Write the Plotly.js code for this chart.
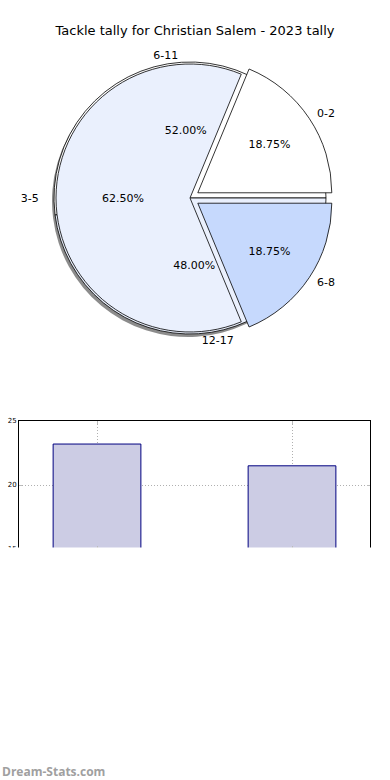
<!DOCTYPE html>
<html>
<head>
<meta charset="utf-8">
<script src="https://cdn.plot.ly/plotly-3.0.1.min.js"></script>
<style>
  html, body { margin: 0; padding: 0; background: #ffffff; }
  #chart { width: 390px; height: 780px; }
</style>
</head>
<body>
<div id="chart"></div>
<script>
// ---- data ----
const groupLabels = ['0-2', '3-5', '6-8'];
const groupValues = [3, 10, 3];
const rangeLabels = ['6-11', '12-17'];
const rangeValues = [13, 12];
const barCategories = ['A', 'B'];
const barValues = [23.2, 21.5];
const barTicks = [15, 20, 25];

// ---- styling ----
const W = 390, H = 780;
const sliceColors = ['#ffffff', '#eaf0fd', '#c6d9fd'];
const clear = groupLabels.map(() => 'rgba(0,0,0,0)');
const cx = 190, cy = 198;
function dom(r, pull) {
  const half = r * (1 + pull);
  return {
    x: [(cx - half) / W, (cx + half) / W],
    y: [1 - (cy + half) / H, 1 - (cy - half) / H]
  };
}
function domShift(r, pull, dx, dy) {
  const d = dom(r, pull);
  return { x: [d.x[0] + dx / W, d.x[1] + dx / W], y: [d.y[0] - dy / H, d.y[1] - dy / H] };
}
// Plotly (counterclockwise) places the first slice clockwise of the rotation point;
// shift so the first slice starts at 3 o'clock and runs counterclockwise.
function startAtThree(vals) {
  const tot = vals.reduce((a, b) => a + b, 0);
  return 90 - 360 * vals[0] / tot;
}
const rot1 = startAtThree(groupValues);
const rot2 = startAtThree(rangeValues);
const R1 = 134, R2 = 136, PULL = 0.07;
const pulls = [PULL, 0, PULL];
const baseFont = { family: 'DejaVu Sans', size: 11, color: '#000000' };
// which group labels sit on the far left / the right side
const sideText = groupLabels.map((l, i) => (i === 1 ? '' : l));
const leftText = groupLabels.map((l, i) => (i === 1 ? l : ''));

function groupPie(extra) {
  return Object.assign({
    type: 'pie', values: groupValues, labels: groupLabels, sort: false,
    direction: 'counterclockwise', rotation: rot1, pull: pulls,
    hoverinfo: 'skip', showlegend: false
  }, extra);
}
function rangePie(extra) {
  return Object.assign({
    type: 'pie', values: rangeValues, labels: rangeLabels, sort: false,
    direction: 'counterclockwise', rotation: rot2,
    hoverinfo: 'skip', showlegend: false
  }, extra);
}

const traces = [
  // shadow
  rangePie({
    domain: domShift(R2, 0, -2, 3),
    marker: { colors: ['rgba(0,0,0,0.45)', 'rgba(0,0,0,0.45)'], line: { width: 0 } },
    textinfo: 'none'
  }),
  // range pie (behind)
  rangePie({
    domain: dom(R2, 0),
    marker: { colors: [sliceColors[0], sliceColors[1]], line: { color: '#000000', width: 0.8 } },
    textposition: 'outside', textinfo: 'label', outsidetextfont: baseFont,
    hoverinfo: 'label+percent'
  }),
  // group pie (front)
  groupPie({
    domain: dom(R1, PULL),
    marker: { colors: sliceColors, line: { color: '#000000', width: 0.8 } },
    textinfo: 'none', hoverinfo: 'label+percent'
  }),
  // group labels on the right
  groupPie({
    domain: dom(R1 + 5, PULL),
    marker: { colors: clear, line: { width: 0 } },
    text: sideText, textinfo: 'text', textposition: 'outside', outsidetextfont: baseFont
  }),
  // group label on the left
  groupPie({
    domain: dom(R1 + 14, PULL),
    marker: { colors: clear, line: { width: 0 } },
    text: leftText, textinfo: 'text', textposition: 'outside', outsidetextfont: baseFont
  }),
  // group percentages
  groupPie({
    domain: dom(R1, PULL),
    marker: { colors: clear, line: { width: 0 } },
    textposition: 'inside', insidetextorientation: 'horizontal',
    texttemplate: '%{percent:.2%}', insidetextfont: baseFont
  }),
  // range percentages
  rangePie({
    domain: dom(R2, 0),
    marker: { colors: ['rgba(0,0,0,0)', 'rgba(0,0,0,0)'], line: { width: 0 } },
    textposition: 'inside', insidetextorientation: 'horizontal',
    texttemplate: '%{percent:.2%}', insidetextfont: baseFont
  }),
  // bars
  {
    type: 'bar', x: [0, 1], y: barValues, width: 0.45,
    xaxis: 'x', yaxis: 'y',
    marker: { color: 'rgb(204,204,228)', line: { color: '#000080', width: 1 } },
    hoverinfo: 'y', showlegend: false
  }
];

const layout = {
  width: W, height: H,
  margin: { l: 0, r: 0, t: 0, b: 0 },
  paper_bgcolor: '#ffffff', plot_bgcolor: '#ffffff',
  font: { family: 'DejaVu Sans', color: '#000000' },
  title: {
    text: 'Tackle tally for Christian Salem - 2023 tally',
    font: { family: 'DejaVu Sans', size: 13, color: '#000000' },
    x: 0.5, xanchor: 'center', y: 1 - 30 / H, yanchor: 'middle'
  },
  xaxis: {
    domain: [19 / W, 370 / W], range: [-0.4, 1.4],
    tickvals: [0, 1], ticktext: barCategories, showticklabels: false,
    showgrid: true, gridcolor: '#b0b0b0', griddash: '1px,2px', gridwidth: 1,
    showline: true, mirror: 'ticks', linecolor: '#000000', linewidth: 1,
    ticks: 'inside', ticklen: 3, tickcolor: '#bbbbbb', zeroline: false, fixedrange: true
  },
  yaxis: {
    domain: [1 - 549 / H, 1 - 421 / H], range: [15, 25],
    tickvals: barTicks, ticktext: barTicks.map(String),
    tickfont: { family: 'DejaVu Sans', size: 7, color: '#000000' },
    showgrid: true, gridcolor: '#b0b0b0', griddash: '1px,2px', gridwidth: 1,
    showline: true, mirror: 'ticks', linecolor: '#000000', linewidth: 1,
    ticks: 'inside', ticklen: 3, tickcolor: '#bbbbbb', zeroline: false, fixedrange: true
  },
  shapes: [{
    type: 'rect', xref: 'paper', yref: 'paper', layer: 'above',
    x0: 0, x1: 1, y0: 0, y1: 1 - 547.5 / H,
    fillcolor: '#ffffff', line: { width: 0 }
  }],
  annotations: [{
    text: 'Dream-Stats.com', xref: 'paper', yref: 'paper',
    x: 0, xanchor: 'left', y: 1 - 771 / H, yanchor: 'middle', showarrow: false,
    font: { family: 'Open Sans', size: 12, color: '#a0a0a0', weight: 'bold' }
  }]
};

Plotly.newPlot('chart', traces, layout, { displayModeBar: false, staticPlot: true });
</script>
</body>
</html>
